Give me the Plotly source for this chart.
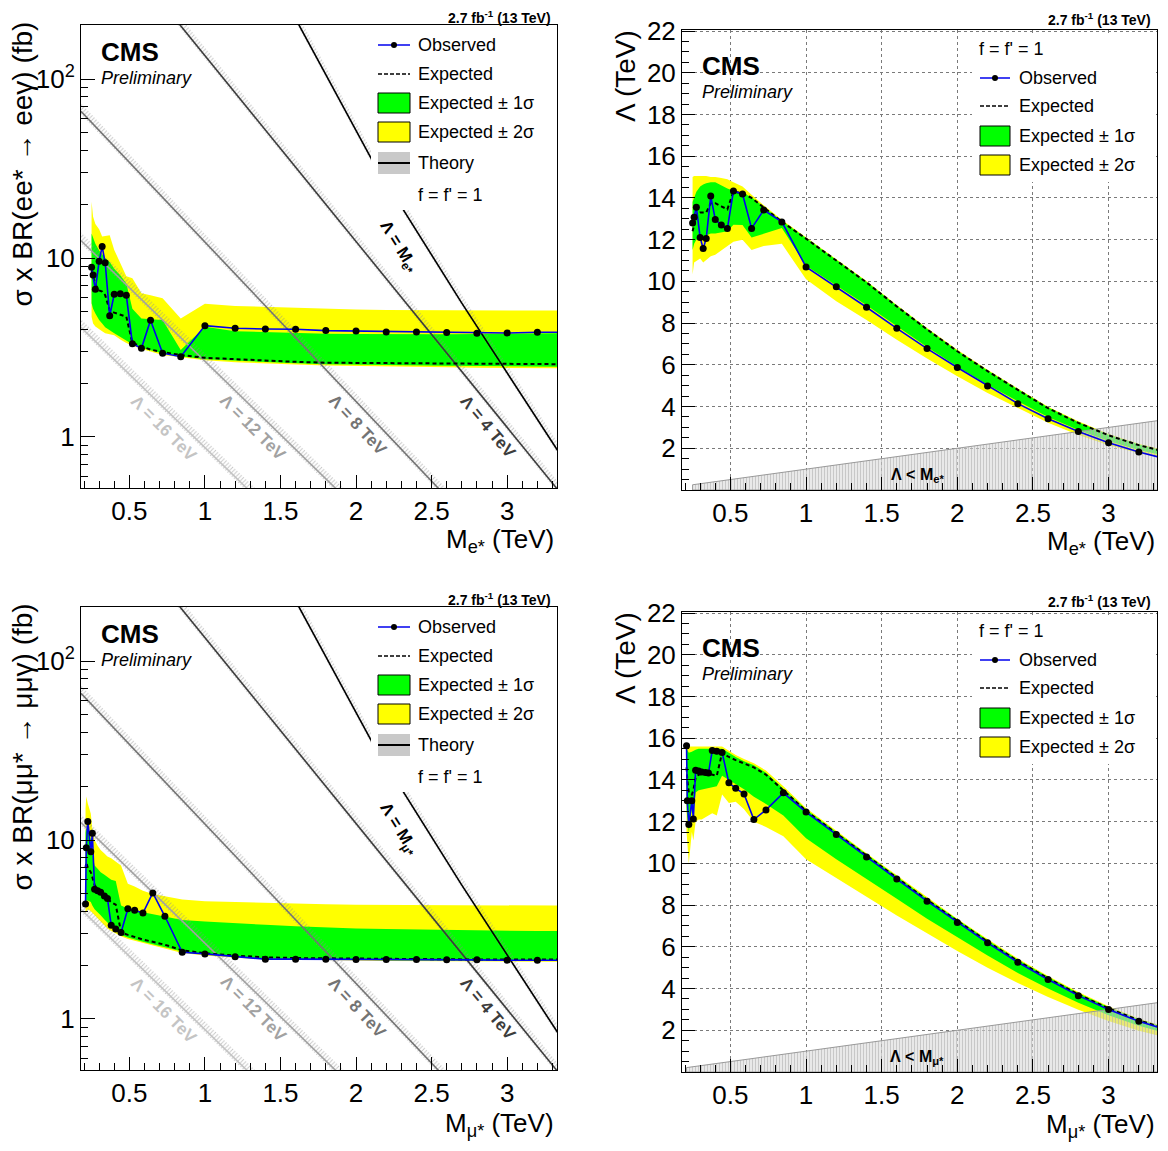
import plotly.graph_objects as go

W, H = 1168, 1151          # browser window
OFF = 8                    # default page margin of the html body
FW, FH = W - 2 * OFF, H - 2 * OFF
FONT = "Liberation Sans, Arial, Helvetica, sans-serif"

# ---------------- data: excited electrons ----------------
m_e = [0.25, 0.26, 0.275, 0.30, 0.32, 0.34, 0.37, 0.40, 0.44, 0.48, 0.52, 0.58, 0.64, 0.72, 0.84,
       1.0, 1.2, 1.4, 1.6, 1.8, 2.0, 2.2, 2.4, 2.6, 2.8, 3.0, 3.2, 3.4]
xs_e_obs = [8.87, 8.04, 6.69, 9.6, 11.6, 9.41, 4.76, 6.27, 6.32, 6.19, 3.32, 3.13, 4.49, 2.94, 2.81,
            4.19, 4.05, 4.01, 4.0, 3.93, 3.91, 3.86, 3.86, 3.83, 3.80, 3.81, 3.85, 3.85]
xs_e_exp = [8.5, 7.8, 7.1, 6.6, 6.5, 6.2, 5.1, 4.95, 4.8, 4.7, 3.35, 3.2, 3.08, 2.98, 2.87,
            2.77, 2.72, 2.67, 2.63, 2.60, 2.59, 2.58, 2.57, 2.57, 2.56, 2.56, 2.55, 2.55]
xs_e_g_hi = [13.7, 12.9, 12.0, 11.0, 10.4, 10.0, 9.5, 8.7, 8.0, 7.2, 5.2, 4.6, 4.55, 4.5, 3.06,
             4.13, 3.9, 3.85, 3.8, 3.78, 3.76, 3.75, 3.75, 3.75, 3.76, 3.78, 3.8, 3.8]
xs_e_y_hi = [20.6, 17.0, 15.5, 14.5, 13.2, 13.3, 13.4, 11.1, 9.3, 7.9, 7.7, 6.35, 6.2, 5.96, 4.6,
             5.55, 5.4, 5.33, 5.25, 5.18, 5.15, 5.13, 5.12, 5.11, 5.1, 5.09, 5.08, 5.08]
xs_e_g_lo = [5.58, 5.2, 4.9, 4.5, 4.3, 4.1, 3.95, 3.8, 3.6, 3.45, 3.3, 3.15, 3.05, 2.94, 2.83,
             2.72, 2.66, 2.62, 2.58, 2.55, 2.53, 2.52, 2.51, 2.50, 2.49, 2.48, 2.47, 2.47]
xs_e_y_lo = [4.7, 4.3, 4.15, 4.0, 3.9, 3.8, 3.75, 3.7, 3.5, 3.35, 3.25, 3.1, 3.0, 2.87, 2.78,
             2.68, 2.62, 2.57, 2.54, 2.51, 2.49, 2.47, 2.46, 2.45, 2.44, 2.43, 2.42, 2.42]

lam_e_obs = [12.80, 13.07, 13.55, 12.10, 11.58, 12.05, 14.09, 12.97, 12.70, 12.53, 14.33, 14.19, 12.54, 13.42, 12.85,
             10.69, 9.74, 8.76, 7.75, 6.78, 5.87, 4.99, 4.14, 3.42, 2.80, 2.26, 1.82, 1.45]
lam_e_exp = [12.4, 12.8, 13.2, 13.3, 13.3, 13.3, 13.75, 13.75, 13.6, 13.45, 14.3, 14.22, 14.0, 13.55, 12.86,
             12.05, 11.0, 9.95, 8.8, 7.7, 6.65, 5.7, 4.8, 3.92, 3.22, 2.62, 2.15, 1.78]
lam_e_g_hi = [13.8, 14.0, 14.3, 14.55, 14.65, 14.7, 14.75, 14.75, 14.6, 14.45, 14.35, 14.25, 14.03, 13.58, 12.89,
              12.08, 11.03, 9.98, 8.83, 7.73, 6.68, 5.73, 4.83, 3.95, 3.25, 2.65, 2.18, 1.81]
lam_e_y_hi = [15.0, 15.05, 15.05, 15.05, 15.05, 15.05, 15.0, 15.0, 14.95, 14.9, 14.75, 14.55, 14.15, 13.65, 12.95,
              12.12, 11.07, 10.02, 8.87, 7.77, 6.72, 5.77, 4.87, 3.99, 3.29, 2.69, 2.22, 1.85]
lam_e_g_lo = [11.5, 11.8, 12.0, 12.1, 12.15, 12.2, 12.3, 12.3, 12.35, 12.4, 12.72, 12.7, 12.1, 12.3, 12.56,
              10.75, 9.8, 8.85, 7.85, 6.85, 5.92, 5.05, 4.25, 3.5, 2.88, 2.35, 1.92, 1.6]
lam_e_y_lo = [10.33, 10.9, 11.0, 11.1, 10.9, 11.0, 11.2, 11.28, 11.5, 11.68, 11.9, 12.0, 11.5, 11.7, 11.8,
              10.1, 9.05, 8.15, 7.2, 6.3, 5.45, 4.65, 3.92, 3.22, 2.64, 2.15, 1.76, 1.46]

# ---------------- data: excited muons ----------------
m_mu = [0.21, 0.215, 0.225, 0.245, 0.255, 0.27, 0.29, 0.31, 0.335, 0.355, 0.38, 0.41, 0.445, 0.49, 0.535,
        0.59, 0.655, 0.735, 0.85, 1.0, 1.2, 1.4, 1.6, 1.8, 2.0, 2.2, 2.4, 2.6, 2.8, 3.0, 3.2, 3.4]
xs_mu_obs = [4.39, 9.06, 12.7, 8.6, 10.9, 5.3, 5.21, 5.1, 4.86, 4.72, 3.34, 3.18, 3.04, 4.13, 4.05,
             3.91, 5.06, 3.75, 2.36, 2.31, 2.23, 2.16, 2.16, 2.16, 2.15, 2.15, 2.15, 2.14, 2.14, 2.13, 2.13, 2.13]
xs_mu_exp = [7.0, 7.5, 7.0, 6.6, 6.2, 5.6, 5.3, 5.1, 4.9, 4.7, 4.5, 4.35, 3.05, 2.95, 2.87,
             2.78, 2.7, 2.6, 2.42, 2.33, 2.26, 2.21, 2.19, 2.18, 2.17, 2.16, 2.16, 2.15, 2.15, 2.15, 2.15, 2.15]
xs_mu_g_hi = [11.0, 12.0, 11.5, 10.0, 8.5, 7.2, 6.9, 6.6, 6.4, 6.2, 6.0, 5.9, 4.3, 4.15, 4.0,
              3.95, 3.85, 3.7, 3.57, 3.5, 3.42, 3.36, 3.3, 3.24, 3.2, 3.18, 3.16, 3.14, 3.12, 3.1, 3.1, 3.1]
xs_mu_y_hi = [15.0, 17.5, 16.0, 14.0, 11.6, 10.0, 9.3, 8.8, 8.4, 8.1, 7.9, 7.6, 7.2, 5.7, 5.5,
              5.2, 5.0, 4.85, 4.65, 4.55, 4.5, 4.45, 4.4, 4.37, 4.35, 4.34, 4.33, 4.32, 4.31, 4.3, 4.3, 4.3]
xs_mu_g_lo = [4.3, 4.6, 4.6, 4.5, 4.3, 4.1, 3.95, 3.8, 3.6, 3.45, 3.3, 3.2, 2.95, 2.85, 2.78,
              2.7, 2.62, 2.53, 2.38, 2.29, 2.23, 2.18, 2.16, 2.15, 2.14, 2.13, 2.12, 2.12, 2.11, 2.11, 2.11, 2.11]
xs_mu_y_lo = [3.9, 4.0, 4.1, 4.0, 3.9, 3.8, 3.65, 3.5, 3.35, 3.2, 3.1, 3.0, 2.9, 2.8, 2.73,
              2.65, 2.57, 2.48, 2.34, 2.26, 2.2, 2.16, 2.14, 2.13, 2.12, 2.11, 2.1, 2.1, 2.09, 2.09, 2.09, 2.09]

lam_mu_obs = [15.64, 13.0, 11.86, 13.0, 12.13, 14.47, 14.43, 14.38, 14.36, 14.33, 15.41, 15.38, 15.32, 13.86, 13.6,
              13.33, 12.1, 12.56, 13.38, 12.46, 11.38, 10.30, 9.25, 8.19, 7.17, 6.19, 5.26, 4.43, 3.66, 2.99, 2.43, 1.98]
lam_mu_exp = [14.6, 14.0, 13.4, 13.3, 13.5, 14.1, 14.25, 14.3, 14.35, 14.3, 14.25, 14.2, 15.3, 15.1, 14.95,
              14.8, 14.6, 14.25, 13.5, 12.52, 11.44, 10.36, 9.31, 8.25, 7.23, 6.25, 5.32, 4.49, 3.72, 3.05, 2.48, 2.02]
lam_mu_g_hi = [15.5, 15.4, 15.3, 15.35, 15.4, 15.45, 15.5, 15.5, 15.5, 15.5, 15.5, 15.5, 15.5, 15.3, 15.1,
               14.9, 14.7, 14.35, 13.6, 12.58, 11.5, 10.42, 9.37, 8.31, 7.29, 6.31, 5.38, 4.55, 3.78, 3.1, 2.53, 2.07]
lam_mu_y_hi = [15.65, 15.6, 15.6, 15.6, 15.6, 15.6, 15.62, 15.62, 15.62, 15.62, 15.62, 15.62, 15.6, 15.4, 15.2,
               15.0, 14.8, 14.45, 13.7, 12.65, 11.56, 10.48, 9.43, 8.37, 7.35, 6.37, 5.44, 4.6, 3.83, 3.15, 2.57, 2.1]
lam_mu_g_lo = [12.6, 12.2, 11.5, 12.6, 12.4, 13.4, 13.5, 13.55, 13.6, 13.6, 13.65, 13.7, 14.2, 14.0, 13.8,
               13.55, 13.2, 12.85, 12.3, 11.2, 10.2, 9.25, 8.3, 7.35, 6.45, 5.58, 4.75, 4.0, 3.32, 2.72, 2.22, 1.82]
lam_mu_y_lo = [11.5, 10.8, 10.0, 11.5, 11.1, 12.0, 12.1, 12.1, 12.2, 12.3, 12.4, 12.3, 13.3, 12.9, 12.95,
               12.6, 12.0, 11.75, 11.3, 10.2, 9.3, 8.4, 7.5, 6.65, 5.8, 5.0, 4.27, 3.6, 2.98, 2.44, 1.98, 1.62]

# ---------------- theory curves (sigma x BR in fb vs mass) ----------------
theory_lambda = ["16", "12", "8", "4", "M"]
theory_m = [[0.18, 1.50], [0.18, 2.0], [0.18, 2.7], [0.70, 3.40], [1.55, 2.1, 2.7, 3.4]]
theory_xs = [[4.1, 0.34], [12.5, 0.40], [66.0, 0.376], [277.0, 0.435], [260.0, 36.0, 5.6, 0.69]]
theory_unc_lo = 0.96
theory_unc_hi = 1.11
theory_colors = ["#c4c4c4", "#a2a2a2", "#747474", "#3c3c3c", "#000000"]

GREEN = "#00ff00"
YELLOW = "#ffff00"
BLUE = "#0000ee"

fig = go.Figure()


def px_x(p):
    return (p - OFF) / FW


def px_y(p):
    return 1 - (p - OFF) / FH


def band(xa, ya, m, lo, hi, color):
    fig.add_trace(go.Scatter(x=list(m) + list(m)[::-1], y=list(hi) + list(lo)[::-1], fill="toself",
                             fillcolor=color, mode="lines", line=dict(width=0, color=color),
                             xaxis=xa, yaxis=ya, hoverinfo="skip", showlegend=False))


def lines_obs_exp(xa, ya, m, exp, obs):
    fig.add_trace(go.Scatter(x=m, y=exp, mode="lines", line=dict(color="black", width=2, dash="4px,3px"),
                             xaxis=xa, yaxis=ya, showlegend=False))
    fig.add_trace(go.Scatter(x=m, y=obs, mode="lines+markers", line=dict(color=BLUE, width=1.6),
                             marker=dict(color="black", size=7), xaxis=xa, yaxis=ya, showlegend=False))


def theory(xa, ya):
    for lab, mm, xs, col in zip(theory_lambda, theory_m, theory_xs, theory_colors):
        hi = [v * theory_unc_hi for v in xs]
        lo = [v * theory_unc_lo for v in xs]
        fig.add_trace(go.Scatter(x=mm + mm[::-1], y=hi + lo[::-1], fill="toself",
                                 fillcolor="rgba(190,190,190,0.25)",
                                 fillpattern=dict(shape="/", fgcolor="rgba(140,140,140,0.5)", size=3, solidity=0.3),
                                 mode="lines", line=dict(width=0), xaxis=xa, yaxis=ya, hoverinfo="skip",
                                 showlegend=False))
        fig.add_trace(go.Scatter(x=mm, y=xs, mode="lines", line=dict(color=col, width=1.6),
                                 xaxis=xa, yaxis=ya, showlegend=False))


def triangle(xa, ya, m):
    tx = [m[0], m[-1], m[-1], m[0], m[0]]
    ty = [m[0], m[-1], 0, 0, m[0]]
    fig.add_trace(go.Scatter(x=tx, y=ty, fill="toself", fillcolor="rgba(205,205,205,0.65)",
                             fillpattern=dict(shape="|", fgcolor="rgba(170,170,170,0.6)",
                                              bgcolor="rgba(215,215,215,0.55)", size=3, solidity=0.3),
                             mode="lines", line=dict(color="#999999", width=1), xaxis=xa, yaxis=ya,
                             hoverinfo="skip", showlegend=False))


band("x", "y", m_e, xs_e_y_lo, xs_e_y_hi, YELLOW)
band("x", "y", m_e, xs_e_g_lo, xs_e_g_hi, GREEN)
theory("x", "y")
lines_obs_exp("x", "y", m_e, xs_e_exp, xs_e_obs)

band("x2", "y2", m_e, lam_e_y_lo, lam_e_y_hi, YELLOW)
band("x2", "y2", m_e, lam_e_g_lo, lam_e_g_hi, GREEN)
triangle("x2", "y2", m_e)
lines_obs_exp("x2", "y2", m_e, lam_e_exp, lam_e_obs)

band("x3", "y3", m_mu, xs_mu_y_lo, xs_mu_y_hi, YELLOW)
band("x3", "y3", m_mu, xs_mu_g_lo, xs_mu_g_hi, GREEN)
theory("x3", "y3")
lines_obs_exp("x3", "y3", m_mu, xs_mu_exp, xs_mu_obs)

band("x4", "y4", m_mu, lam_mu_y_lo, lam_mu_y_hi, YELLOW)
band("x4", "y4", m_mu, lam_mu_g_lo, lam_mu_g_hi, GREEN)
triangle("x4", "y4", m_mu)
lines_obs_exp("x4", "y4", m_mu, lam_mu_exp, lam_mu_obs)

tickfont = dict(family=FONT, size=26, color="black")
log_minor = [0.6, 0.7, 0.8, 0.9, 2, 3, 4, 5, 6, 7, 8, 9, 20, 30, 40, 50, 60, 70, 80, 90, 200]


def xcfg(x0, x1, anchor, rng, grid):
    return dict(domain=[px_x(x0), px_x(x1)], anchor=anchor, range=rng, tick0=0, dtick=0.5,
                automargin=False,
                ticks="inside", ticklen=13, tickcolor="black", tickwidth=1,
                minor=dict(tick0=0, dtick=0.1, ticks="inside", ticklen=7, tickcolor="black", showgrid=False),
                showline=True, linecolor="black", linewidth=1, mirror=True, zeroline=False,
                showgrid=grid, gridcolor="#7a7a7a", griddash="dot", gridwidth=1, tickfont=tickfont)


def ylogcfg(y0, y1, anchor):
    return dict(domain=[px_y(y1), px_y(y0)], anchor=anchor, type="log", range=[-0.285, 2.302],
                automargin=False,
                tickmode="array", tickvals=[1, 10, 100], ticktext=["1", "10", "10<sup>2</sup>"],
                ticks="inside", ticklen=14, tickcolor="black",
                minor=dict(tickmode="array", tickvals=log_minor, ticks="inside", ticklen=7,
                           tickcolor="black", showgrid=False),
                showline=True, linecolor="black", linewidth=1, mirror=True, zeroline=False,
                showgrid=False, tickfont=tickfont)


def ylincfg(y0, y1, anchor):
    return dict(domain=[px_y(y1), px_y(y0)], anchor=anchor, range=[0, 22.05],
                automargin=False,
                tickmode="array", tickvals=list(range(2, 23, 2)),
                ticks="inside", ticklen=13, tickcolor="black",
                minor=dict(tick0=0, dtick=0.5, ticks="inside", ticklen=7, tickcolor="black", showgrid=False),
                showline=True, linecolor="black", linewidth=1, mirror=True, zeroline=False,
                showgrid=True, gridcolor="#7a7a7a", griddash="dot", gridwidth=1, tickfont=tickfont)


fig.update_layout(
    template="none",
    width=FW, height=FH, margin=dict(l=0, r=0, t=0, b=0, pad=0, autoexpand=False), autosize=False,
    paper_bgcolor="white", plot_bgcolor="white", showlegend=False,
    font=dict(family=FONT, color="black"),
    xaxis=xcfg(81, 557, "y", [0.18, 3.33], False),
    yaxis=ylogcfg(25, 488, "x"),
    xaxis2=xcfg(682, 1157, "y2", [0.18, 3.32], True),
    yaxis2=ylincfg(30, 490, "x2"),
    xaxis3=xcfg(81, 557, "y3", [0.18, 3.33], False),
    yaxis3=ylogcfg(607, 1070, "x3"),
    xaxis4=xcfg(682, 1157, "y4", [0.18, 3.32], True),
    yaxis4=ylincfg(612, 1072, "x4"),
)

shapes = []
ann = []


def text(x, y, s, size, xanchor="left", yanchor="middle", color="black", angle=0, bold=False, italic=False):
    if bold:
        s = "<b>" + s + "</b>"
    if italic:
        s = "<i>" + s + "</i>"
    ann.append(dict(x=px_x(x), y=px_y(y), xref="paper", yref="paper", text=s, showarrow=False,
                    xanchor=xanchor, yanchor=yanchor, textangle=angle,
                    font=dict(family=FONT, size=size, color=color)))


def rect(x0, y0, x1, y1, fill, line_color=None, lw=1):
    shapes.append(dict(type="rect", xref="paper", yref="paper", x0=px_x(x0), x1=px_x(x1),
                       y0=px_y(y1), y1=px_y(y0), fillcolor=fill, layer="above",
                       line=dict(color=line_color or fill, width=lw if line_color else 0)))


def hline(x0, x1, y, color, width, dash="solid"):
    shapes.append(dict(type="line", xref="paper", yref="paper", x0=px_x(x0), x1=px_x(x1),
                       y0=px_y(y), y1=px_y(y), layer="above", line=dict(color=color, width=width, dash=dash)))


def dot(x, y, r):
    shapes.append(dict(type="circle", xref="paper", yref="paper", x0=px_x(x - r), x1=px_x(x + r),
                       y0=px_y(y + r), y1=px_y(y - r), fillcolor="black", layer="above",
                       line=dict(color="black", width=0)))


def left_panel_decor(dy, lep, sym, title_y):
    text(553, 17 + dy, "2.7 fb<sup>-1</sup> (13 TeV)", 14, xanchor="right", bold=True)
    text(99, 52 + dy, "CMS", 26, bold=True)
    text(99, 78 + dy, "Preliminary", 18, italic=True)
    rect(371, 30 + dy, 555, 210 + dy, "white")
    hline(378, 410, 45 + dy, BLUE, 1.5)
    dot(394, 45 + dy, 3)
    hline(378, 410, 74 + dy, "black", 1.5, "4px,2px")
    rect(378, 93 + dy, 410, 113 + dy, GREEN, "black", 1)
    rect(378, 122 + dy, 410, 142 + dy, YELLOW, "black", 1)
    rect(378, 152 + dy, 410, 174 + dy, "#c9c9c9")
    hline(378, 410, 163 + dy, "black", 2)
    for yy, s in [(45, "Observed"), (74, "Expected"), (103, "Expected \u00b1 1\u03c3"),
                  (132, "Expected \u00b1 2\u03c3"), (163, "Theory"), (195, "f = f' = 1")]:
        text(416, yy + dy, s, 18)
    text(556, title_y, "M<sub>" + sym + "</sub> (TeV)", 26, xanchor="right")
    text(22, 20 + dy, "\u03c3 x BR(" + lep + "* \u2192 " + lep + "\u03b3) (fb)", 28,
         xanchor="center", yanchor="top", angle=-90)
    for (x, y, s, col, ang) in [(164, 428, "\u039b = 16 TeV", theory_colors[0], 45),
                                (253, 427, "\u039b = 12 TeV", theory_colors[1], 45),
                                (357, 425, "\u039b = 8 TeV", theory_colors[2], 47),
                                (488, 426, "\u039b = 4 TeV", theory_colors[3], 50),
                                (398, 247, "\u039b = M<sub>" + sym + "</sub>", theory_colors[4], 58)]:
        text(x, y + dy, s, 17, xanchor="center", color=col, angle=ang, bold=True)


def right_panel_decor(dy, sym, title_y):
    text(1153, 19 + dy, "2.7 fb<sup>-1</sup> (13 TeV)", 14, xanchor="right", bold=True)
    text(700, 66 + dy, "CMS", 26, bold=True)
    text(700, 92 + dy, "Preliminary", 18, italic=True)
    rect(972, 35 + dy, 1155, 182 + dy, "white")
    text(977, 49 + dy, "f = f' = 1", 18)
    hline(980, 1010, 78 + dy, BLUE, 1.5)
    dot(995, 78 + dy, 3)
    hline(980, 1010, 106 + dy, "black", 1.5, "4px,2px")
    rect(980, 126 + dy, 1010, 146 + dy, GREEN, "black", 1)
    rect(980, 155 + dy, 1010, 175 + dy, YELLOW, "black", 1)
    for yy, s in [(78, "Observed"), (106, "Expected"), (136, "Expected \u00b1 1\u03c3"),
                  (165, "Expected \u00b1 2\u03c3")]:
        text(1017, yy + dy, s, 18)
    text(1157, title_y, "M<sub>" + sym + "</sub> (TeV)", 26, xanchor="right")
    text(625, 28 + dy, "\u039b (TeV)", 28, xanchor="center", yanchor="top", angle=-90)
    text(917, 475 + dy, "\u039b < M<sub>" + sym + "</sub>", 16, xanchor="center", bold=True)


left_panel_decor(0, "ee", "e*", 541)
right_panel_decor(0, "e*", 542)
left_panel_decor(582, "\u03bc\u03bc", "\u03bc*", 1124)
right_panel_decor(582, "\u03bc*", 1125)

fig.update_layout(shapes=shapes, annotations=ann)
fig.write_html("out.html")
